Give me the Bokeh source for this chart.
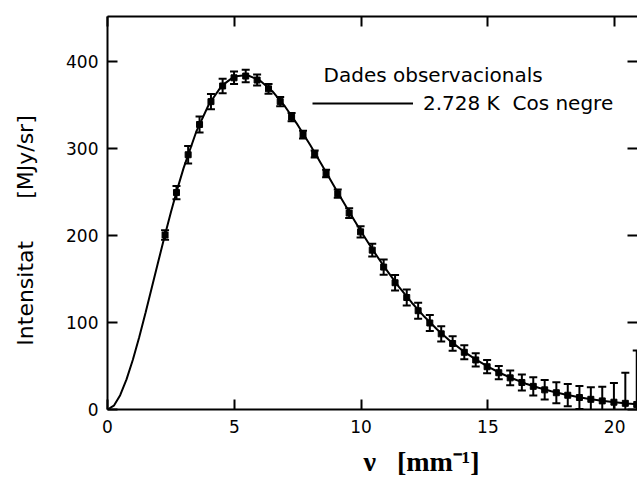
from bokeh.plotting import figure
from bokeh.models import (ColumnDataSource, Whisker, TeeHead, LinearAxis, FixedTicker,
                          Range1d, Label, Legend, LegendItem, CustomJSTickFormatter)
from bokeh.embed import file_html
from bokeh.resources import INLINE

# ---- data ----
nu_obs = [2.27, 2.72, 3.18, 3.63, 4.08, 4.54, 4.99, 5.45, 5.90, 6.35, 6.81, 7.26, 7.71,
          8.17, 8.62, 9.08, 9.53, 9.98, 10.44, 10.89, 11.34, 11.80, 12.25, 12.71, 13.16,
          13.61, 14.07, 14.52, 14.97, 15.43, 15.88, 16.34, 16.79, 17.24, 17.70, 18.15,
          18.61, 19.06, 19.51, 19.97, 20.42, 20.87, 21.33]
I_obs = [200.7, 249.5, 293.0, 327.8, 354.1, 372.1, 381.5, 383.5, 378.9, 368.8, 354.1,
         336.3, 316.1, 293.9, 271.4, 248.2, 225.9, 204.3, 183.3, 163.8, 145.8, 128.8,
         113.6, 99.5, 87.0, 75.9, 65.8, 57.0, 49.2, 42.3, 36.4, 31.1, 26.6, 22.6, 19.3,
         16.4, 13.8, 11.7, 9.9, 8.4, 7.1, 5.8, 4.5]
I_err = [5.6, 7.6, 10.0, 9.2, 8.8, 8.4, 7.2, 7.2, 6.4, 5.6, 5.2, 4.8, 4.4, 4.0, 4.4,
         4.8, 5.6, 6.4, 7.2, 8.8, 8.8, 9.2, 9.2, 9.2, 8.8, 8.4, 8.0, 7.6, 7.6, 7.6, 8.4,
         9.2, 10.4, 11.2, 12.0, 12.8, 13.2, 14.0, 16.4, 22.0, 35.2, 62.0, 112.8]

nu_curve = [0, 0.25, 0.5, 0.75, 1, 1.25, 1.5, 1.75, 2, 2.25, 2.5, 2.75, 3, 3.5, 4, 4.5,
            5, 5.5, 6, 6.5, 7, 7.5, 8, 8.5, 9, 9.5, 10, 10.5, 11, 11.5, 12, 12.5, 13,
            13.5, 14, 14.5, 15, 15.5, 16, 16.5, 17, 17.5, 18, 18.5, 19, 19.5, 20, 20.5, 21]
I_curve = [0, 4.4, 16.5, 34.6, 57.2, 83.2, 111.3, 140.5, 169.9, 198.9, 226.8, 253.2,
           277.6, 319.5, 351.1, 372.2, 383.1, 384.7, 378.6, 366.1, 348.5, 327.3, 303.9,
           279.0, 253.7, 228.9, 204.7, 181.8, 160.5, 140.8, 122.8, 106.6, 92.1, 79.2,
           67.8, 57.9, 49.2, 41.7, 35.3, 29.7, 25.0, 20.9, 17.5, 14.6, 12.1, 10.1, 8.4,
           6.9, 5.7]

x_ticks = [0, 5, 10, 15, 20]
y_ticks = [0, 100, 200, 300, 400]

title_obs = "Dades observacionals"
title_bb = "2.728 K  Cos negre"
NB = "\u00a0"
y_title = "Intensitat" + NB * 6 + "[MJy/sr]" + NB * 5
x_title = NB * 14 + "ν" + NB * 3 + "[mm⁻¹]"

# ---- figure ----
p = figure(width=637, height=479, output_backend="svg", toolbar_location=None,
           x_range=Range1d(0, 20.9), y_range=Range1d(0, 452),
           min_border_left=107, min_border_right=0, min_border_top=16, min_border_bottom=70,
           x_axis_location=None, y_axis_location=None)
p.outline_line_color = None
p.xgrid.visible = False
p.ygrid.visible = False
p.background_fill_color = "white"
p.border_fill_color = "white"

tick_font = "DejaVu Sans"

def style_axis(ax, labels=True, line=True):
    ax.axis_line_width = 2
    ax.axis_line_color = "black" if line else None
    ax.major_tick_line_width = 2
    ax.major_tick_in = 10
    ax.major_tick_out = 0
    ax.minor_tick_line_color = None
    if labels:
        ax.major_label_text_font = tick_font
        ax.major_label_text_font_size = "17px"
        ax.major_label_text_color = "black"
    else:
        ax.formatter = CustomJSTickFormatter(code="return ''")
        ax.major_label_text_font_size = "1px"
        ax.major_label_standoff = 0

xb = LinearAxis(ticker=FixedTicker(ticks=x_ticks))
style_axis(xb)
xb.major_label_standoff = 10
xb.axis_label = x_title
xb.axis_label_standoff = 10
xb.axis_label_text_font = "Liberation Serif"
xb.axis_label_text_font_size = "28px"
xb.axis_label_text_font_style = "bold"
xb.axis_label_text_color = "black"
p.add_layout(xb, "below")

yl = LinearAxis(ticker=FixedTicker(ticks=y_ticks))
style_axis(yl)
yl.major_label_standoff = 9
yl.axis_label = y_title
yl.axis_label_standoff = 25
yl.axis_label_text_font = tick_font
yl.axis_label_text_font_size = "22px"
yl.axis_label_text_font_style = "normal"
yl.axis_label_text_color = "black"
p.add_layout(yl, "left")

xt = LinearAxis(ticker=FixedTicker(ticks=x_ticks))
style_axis(xt, labels=False)
p.add_layout(xt, "above")

yr = LinearAxis(ticker=FixedTicker(ticks=y_ticks))
style_axis(yr, labels=False, line=False)
p.add_layout(yr, "right")

# ---- curve ----
curve = p.line(nu_curve, I_curve, line_color="black", line_width=2)

# ---- observations ----
src = ColumnDataSource(dict(
    x=nu_obs, y=I_obs,
    lo=[v - e for v, e in zip(I_obs, I_err)],
    hi=[v + e for v, e in zip(I_obs, I_err)],
))
wh = Whisker(source=src, base="x", lower="lo", upper="hi", line_width=2, line_color="black",
             upper_head=TeeHead(size=8, line_width=2, line_color="black"),
             lower_head=TeeHead(size=8, line_width=2, line_color="black"))
p.add_layout(wh)
p.scatter("x", "y", source=src, marker="square", size=6, color="black")

# ---- legend ----
p.add_layout(Label(x=8.52, y=385, text=title_obs, text_font=tick_font,
                   text_font_size="20px", text_color="black", text_baseline="alphabetic"))
leg = Legend(items=[LegendItem(label=title_bb, renderers=[curve])],
             location=(205, 294), padding=0, margin=0, spacing=0,
             glyph_width=101, glyph_height=20, label_height=20, label_standoff=10,
             border_line_color=None, background_fill_alpha=0,
             label_text_font=tick_font, label_text_font_size="20px",
             label_text_color="black")
p.add_layout(leg)

open("out.html", "w").write(file_html(p, INLINE))
